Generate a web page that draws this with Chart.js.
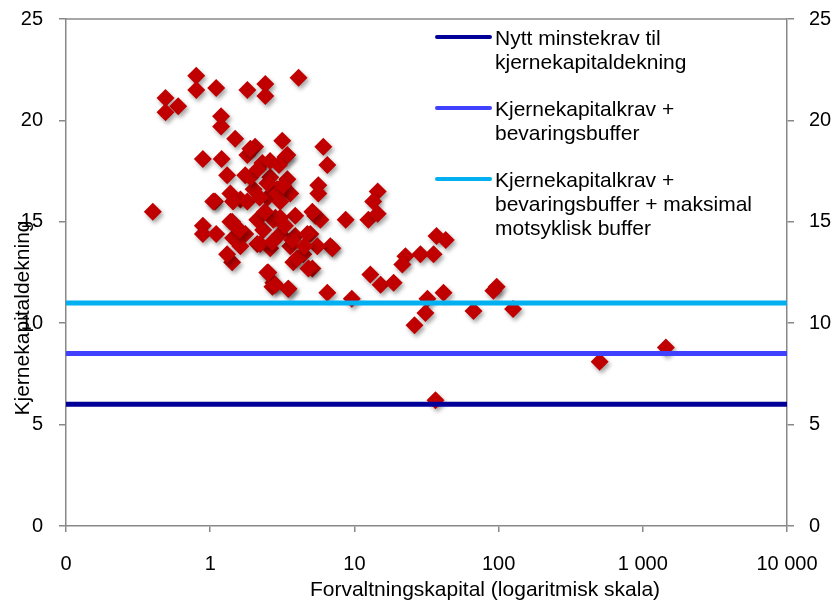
<!DOCTYPE html>
<html>
<head>
<meta charset="utf-8">
<script src="https://cdn.jsdelivr.net/npm/chart.js@4.4.0/dist/chart.umd.min.js"></script>
<style>
  html, body { margin: 0; padding: 0; background: #fff; }
</style>
</head>
<body>
<canvas id="capitalChart" width="836" height="603"></canvas>
<script>
// forvaltningskapital (x) og kjernekapitaldekning (y) per bank
const bankAssets = [
  0.80, 4.1, 0.80, 1.10, 1.81, 2.41, 2.41, 0.49, 0.60, 0.49,
  1.19, 1.19, 1.49, 0.89, 1.20, 1.31, 3.16, 2.05, 3.43, 1.81,
  2.30, 3.43, 2.61, 1.75, 2.0, 2.9, 1.38, 1.08, 1.62, 2.5,
  3.59, 3.32, 6.09, 6.49, 5.62, 5.62, 14.5, 13.5, 8.7, 12.5,
  3.89, 2.83, 5.36, 5.81, 4.95, 6.81, 3.89, 3.59, 4.42, 5.11,
  3.77, 2.49, 2.74, 3.48, 6.49, 9.6, 12.9, 15.2, 14.5, 7.03,
  18.7, 22.6, 21.5, 28.7, 35.4, 37.1, 43, 41.5, 32.1, 31.1,
  26.1, 67, 97, 92, 126, 502, 1445, 36.5, 0.40, 0.89,
  0.89, 1.10, 1.42, 1.44, 1.75, 2.12, 2.33, 2.74, 2.12, 2.61,
  1.42, 1.31, 2.70, 1.90, 2.49, 2.92, 1.38, 3.06, 3.71, 4.72,
  5.53, 1.62, 2.22, 2.70, 4.02, 4.80, 2.53, 2.83, 3.48, 1.05,
  1.44, 1.81, 3.06, 5.11, 3.06, 2.15, 2.6, 3.0, 2.2, 3.2,
  3.3, 2.4, 1.6, 4.5, 1.9
];
const bankRatio = [
  22.2, 22.1, 21.5, 21.6, 21.5, 21.8, 21.2, 21.1, 20.7, 20.4,
  20.2, 19.7, 19.1, 18.1, 18.1, 17.3, 19.0, 18.7, 18.3, 18.3,
  17.9, 17.1, 17.2, 17.3, 16.6, 16.6, 16.4, 16.0, 16.1, 16.2,
  16.4, 18.2, 18.7, 17.8, 16.8, 16.4, 16.5, 16.0, 15.1, 15.1,
  15.3, 15.2, 15.3, 15.1, 14.4, 13.8, 14.3, 13.8, 13.4, 12.7,
  13.0, 12.5, 12.0, 11.7, 11.5, 11.2, 12.4, 11.9, 15.4, 13.7,
  12.0, 13.3, 12.9, 13.4, 13.4, 14.3, 14.1, 11.5, 11.2, 10.5,
  9.9, 10.6, 11.8, 11.6, 10.7, 8.1, 8.8, 6.2, 15.5, 14.8,
  14.4, 14.4, 15.0, 14.2, 14.4, 15.1, 14.6, 15.1, 13.9, 13.7,
  13.0, 13.4, 11.8, 17.2, 16.9, 16.4, 15.0, 14.4, 14.1, 14.4,
  13.8, 13.8, 13.9, 14.0, 13.2, 12.7, 12.5, 11.9, 11.7, 16.0,
  16.0, 16.0, 16.0, 15.5, 15.2, 17.6, 18.0, 17.8, 16.2, 16.8,
  14.8, 15.5, 14.6, 13.8, 18.6
];

// kravnivåer (horisontale linjer)
const reqLevels = [6, 8.5, 11];
const reqLabels = [
  ["Nytt minstekrav til", "kjernekapitaldekning"],
  ["Kjernekapitalkrav +", "bevaringsbuffer"],
  ["Kjernekapitalkrav +", "bevaringsbuffer + maksimal", "motsyklisk buffer"]
];
const reqColors = ["#000099", "#4040FF", "#00B0F0"];

const xRange = [0.1, 10000];
const xTicks = [0.1, 1, 10, 100, 1000, 10000];
const xTickLabels = ["0", "1", "10", "100", "1 000", "10 000"];
const yTicks = [0, 5, 10, 15, 20, 25];

const xTitle = "Forvaltningskapital (logaritmisk skala)";
const yTitle = "Kjernekapitaldekning";

const FONT = "Liberation Sans, Arial, sans-serif";
const AXIS_GREY = "#888888";

const datasets = reqLevels.map((lvl, i) => ({
  type: "line",
  label: reqLabels[i].join(" "),
  data: xRange.map((x) => ({ x: x, y: lvl })),
  borderColor: reqColors[i],
  borderWidth: 5,
  pointRadius: 0,
  fill: false,
  order: 0,
}));

datasets.push({
  type: "scatter",
  label: "Banker",
  data: bankAssets.map((x, i) => ({ x: x, y: bankRatio[i] })),
  pointStyle: "rectRot",
  pointRadius: 9,
  pointBackgroundColor: "#C00000",
  pointBorderWidth: 0,
  order: 1,
});

// skygge under punktene
const shadowPlugin = {
  id: "shadow",
  beforeDatasetDraw(chart, args) {
    if (chart.data.datasets[args.index].type !== "scatter") return;
    const ctx = chart.ctx;
    ctx.save();
    ctx.shadowColor = "rgba(0,0,0,0.35)";
    ctx.shadowBlur = 4;
    ctx.shadowOffsetX = 2;
    ctx.shadowOffsetY = 3;
  },
  afterDatasetDraw(chart, args) {
    if (chart.data.datasets[args.index].type !== "scatter") return;
    chart.ctx.restore();
  },
};

// ramme, aksetitler og forklaring
const extrasPlugin = {
  id: "extras",
  afterDraw(chart) {
    const ctx = chart.ctx;
    const a = chart.chartArea;
    ctx.save();
    ctx.strokeStyle = AXIS_GREY;
    ctx.lineWidth = 1.5;
    ctx.beginPath();
    ctx.moveTo(a.left, a.top);
    ctx.lineTo(a.right, a.top);
    ctx.stroke();

    ctx.fillStyle = "#000";
    ctx.font = "21px " + FONT;
    ctx.textAlign = "center";
    ctx.textBaseline = "middle";
    ctx.fillText(xTitle, 485, 590);

    ctx.save();
    ctx.translate(23, 318);
    ctx.rotate(-Math.PI / 2);
    ctx.fillText(yTitle, 0, 0);
    ctx.restore();

    // forklaring
    const groupTop = [39, 110, 181];
    ctx.textAlign = "left";
    ctx.lineCap = "round";
    reqLabels.forEach((lines, i) => {
      ctx.strokeStyle = reqColors[i];
      ctx.lineWidth = 4;
      ctx.beginPath();
      ctx.moveTo(437, groupTop[i] - 2);
      ctx.lineTo(490, groupTop[i] - 2);
      ctx.stroke();
      lines.forEach((t, j) => {
        ctx.fillText(t, 495, groupTop[i] + j * 24);
      });
    });
    ctx.restore();
  },
};

const tickFont = { family: FONT, size: 20 };

function fixY(width) {
  return (s) => {
    s.width = width;
    s.paddingTop = 0;
    s.paddingBottom = 0;
  };
}

new Chart(document.getElementById("capitalChart"), {
  data: { datasets: datasets },
  options: {
    responsive: false,
    animation: false,
    devicePixelRatio: 1,
    layout: { padding: { top: 19 } },
    plugins: {
      legend: { display: false },
      tooltip: { enabled: false },
    },
    scales: {
      x: {
        type: "logarithmic",
        min: xRange[0],
        max: xRange[1],
        afterBuildTicks: (s) => {
          s.ticks = xTicks.map((v) => ({ value: v }));
        },
        afterFit: (s) => {
          s.height = 77;
          s.paddingLeft = 0;
          s.paddingRight = 0;
        },
        ticks: {
          callback: (v, i) => xTickLabels[i],
          font: tickFont,
          color: "#000",
          padding: 20,
          autoSkip: false,
          maxRotation: 0,
        },
        grid: {
          drawOnChartArea: false,
          drawTicks: true,
          tickLength: 6,
          color: AXIS_GREY,
          lineWidth: 1.5,
        },
        border: { color: AXIS_GREY, width: 1.5 },
      },
      y: {
        type: "linear",
        position: "left",
        min: 0,
        max: 25,
        afterBuildTicks: (s) => {
          s.ticks = yTicks.map((v) => ({ value: v }));
        },
        afterFit: fixY(66),
        ticks: { font: tickFont, color: "#000", padding: 16 },
        grid: {
          drawOnChartArea: false,
          drawTicks: true,
          tickLength: 7,
          color: AXIS_GREY,
          lineWidth: 1.5,
        },
        border: { color: AXIS_GREY, width: 1.5 },
      },
      y2: {
        type: "linear",
        position: "right",
        min: 0,
        max: 25,
        afterBuildTicks: (s) => {
          s.ticks = yTicks.map((v) => ({ value: v }));
        },
        afterFit: fixY(49),
        ticks: { font: tickFont, color: "#000", padding: 15 },
        grid: {
          drawOnChartArea: false,
          drawTicks: true,
          tickLength: 7,
          color: AXIS_GREY,
          lineWidth: 1.5,
        },
        border: { color: AXIS_GREY, width: 1.5 },
      },
    },
  },
  plugins: [shadowPlugin, extrasPlugin],
});
</script>
</body>
</html>
